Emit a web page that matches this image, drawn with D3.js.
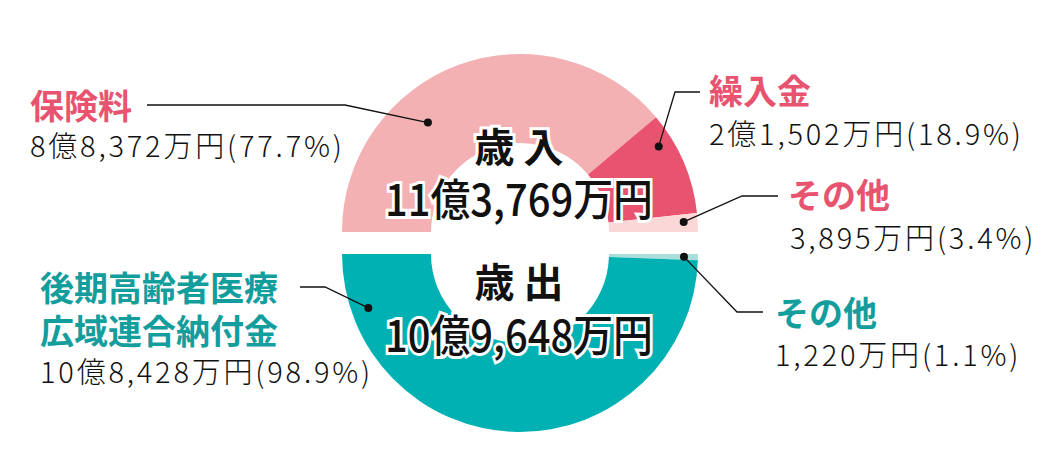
<!DOCTYPE html>
<html>
<head>
<meta charset="utf-8">
<script src="https://cdn.jsdelivr.net/npm/d3@7"></script>
<style>
  body { margin: 0; background: #fff; }
  svg { display: block; font-family: "Noto Sans CJK JP", "Noto Sans", sans-serif; }
</style>
</head>
<body>
<svg id="chart" width="1047" height="462"></svg>
<script>
// 歳入 (unit: 万円)
const revenueLabels = ['保険料', '繰入金', 'その他'];
const revenueValues = [88372, 21502, 3895];
const revenueColors = ['#f4b1b4', '#e8546f', '#fbd8d8'];

// 歳出 (unit: 万円) - drawn from the right end round the bottom
const expenseLabels = ['その他', '後期高齢者医療\n広域連合納付金'];
const expenseValues = [1220, 108428];
const expenseColors = ['#a9dedb', '#00b1b3'];

const titles = ['歳 入', '歳 出'];

const pinkText = '#e8546f';
const tealText = '#139e9d';

const fmtYen = function(v) {
    const oku = Math.floor(v / 10000), man = v % 10000;
    return (oku ? oku + '億' : '') + d3.format(',')(man) + '万円';
};
const fmtPct = d3.format('.1f');

const svg = d3.select('#chart');
const cx = 520, R = 178, r = 89;

const arc = d3.arc().innerRadius(r).outerRadius(R);

// annotation placement: where on the slice the dot sits, the leader elbow and the text block
const revenueLayout = [
    {t: 0.357, rad: 143, pts: [[345, 105], [147, 105]], x: 30, title: [119], value: 157},
    {t: 0.25, rad: 163, pts: [[675, 92], [700, 92]], x: 709, title: [104], value: 145},
    {t: 0.43, rad: 164, pts: [[742, 196], [778, 196]], x: 788, title: [208], value: 249, vx: 790}
];
const expenseLayout = [
    {t: 0.5, rad: 164, pts: [[737, 312], [763, 312]], x: 775, title: [326], value: 366},
    {t: 0.89, rad: 161, pts: [[325, 287], [300, 287]], x: 40, title: [301, 344], value: 383}
];

const halves = [
    {cy: 232, start: -Math.PI / 2, end: Math.PI / 2, labels: revenueLabels, values: revenueValues,
     colors: revenueColors, layout: revenueLayout, textColor: pinkText, title: titles[0], tBase: 162, sBase: 216},
    {cy: 254, start: Math.PI / 2, end: Math.PI * 1.5, labels: expenseLabels, values: expenseValues,
     colors: expenseColors, layout: expenseLayout, textColor: tealText, title: titles[1], tBase: 297, sBase: 352}
];

halves.forEach(function(h) {
    const total = d3.sum(h.values);
    const pie = d3.pie().sort(null).startAngle(h.start).endAngle(h.end);
    const slices = pie(h.values);

    const g = svg.append('g').attr('transform', 'translate(' + cx + ',' + h.cy + ')');
    g.selectAll('path')
        .data(slices)
        .join('path')
        .attr('d', arc)
        .attr('fill', (d, i) => h.colors[i]);

    slices.forEach(function(s, i) {
        const lay = h.layout[i];
        const a = s.startAngle + lay.t * (s.endAngle - s.startAngle);
        const p = d3.pointRadial(a, lay.rad);
        const dot = [cx + p[0], h.cy + p[1]];

        svg.append('path')
            .attr('d', d3.line()([dot].concat(lay.pts)))
            .attr('fill', 'none')
            .attr('stroke', '#111')
            .attr('stroke-width', 1.3);
        svg.append('circle')
            .attr('cx', dot[0]).attr('cy', dot[1]).attr('r', 4)
            .attr('fill', '#111');

        h.labels[i].split('\n').forEach(function(line, k) {
            svg.append('text')
                .attr('x', lay.x)
                .attr('y', lay.title[k])
                .attr('font-size', 34)
                .attr('font-weight', 700)
                .attr('fill', h.textColor)
                .text(line);
        });
        svg.append('text')
            .attr('x', lay.vx || lay.x)
            .attr('y', lay.value)
            .attr('font-size', 29)
            .attr('font-weight', 300)
            .attr('letter-spacing', 2.8)
            .attr('fill', '#111')
            .text(fmtYen(h.values[i]) + '(' + fmtPct(h.values[i] / total * 100) + '%)');
    });

    svg.append('text')
        .attr('x', cx - 1)
        .attr('y', h.tBase)
        .attr('text-anchor', 'middle')
        .attr('font-size', 40)
        .attr('font-weight', 700)
        .attr('fill', '#111')
        .attr('stroke', '#fff')
        .attr('stroke-width', 6)
        .attr('paint-order', 'stroke')
        .text(h.title);
    svg.append('text')
        .attr('x', cx - 1)
        .attr('y', h.sBase)
        .attr('text-anchor', 'middle')
        .attr('font-size', 44)
        .attr('font-weight', 500)
        .attr('textLength', 268)
        .attr('lengthAdjust', 'spacingAndGlyphs')
        .attr('fill', '#111')
        .attr('stroke', '#fff')
        .attr('stroke-width', 6)
        .attr('paint-order', 'stroke')
        .text(fmtYen(total));
});
</script>
</body>
</html>
